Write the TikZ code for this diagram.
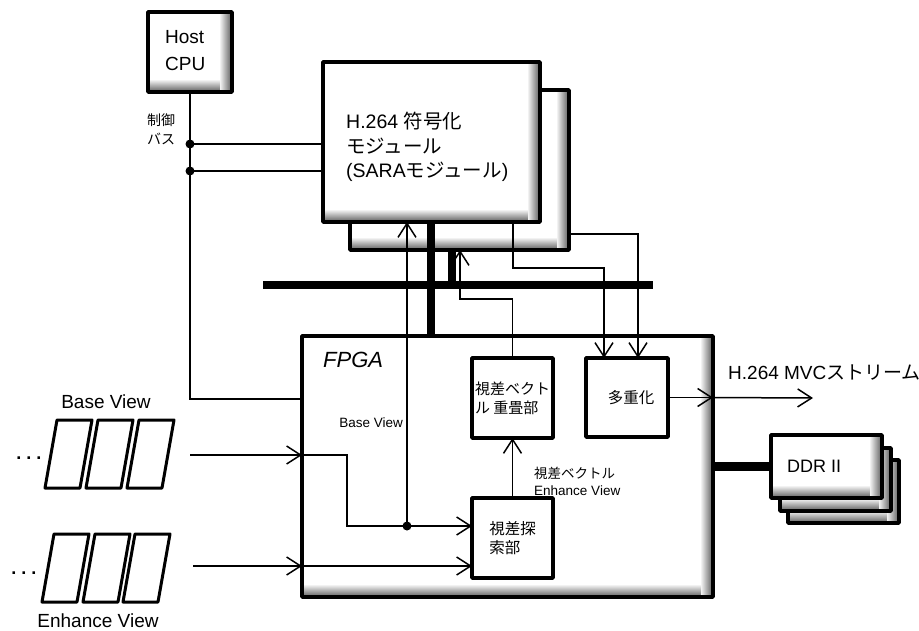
\documentclass[tikz,border=0pt]{standalone}
\usepackage{fontspec}
\setmainfont{Liberation Sans}
\newfontfamily\jp{Noto Sans CJK JP}
\usetikzlibrary{arrows.meta,calc}
\begin{document}
\begin{tikzpicture}[x=1pt,y=-1pt,
  wire/.style={line width=1.5pt},
  arr/.style={wire,-{Straight Barb[length=14pt,width=18pt,line width=1.5pt]}},
  bus/.style={line width=7.5pt},
  blk/.style={draw, line width=3.5pt, fill=white, inner sep=0pt, outer sep=0pt, line join=round},
  shadowed/.style={path picture={
    \foreach \i [evaluate=\i as \c using int(\i*5), evaluate=\i as \sa using \i-13, evaluate=\i as \sb using \i-12] in {0,...,12} {
      \fill[black!\c] ([xshift=\sa pt]path picture bounding box.north east) rectangle ([xshift=\sb pt]path picture bounding box.south east);
      \fill[black!\c] ([yshift=-\sa pt]path picture bounding box.south west) rectangle ([yshift=-\sb pt, xshift=-12pt]path picture bounding box.south east);
    }
  }},
  txt/.style={inner sep=0pt, align=left},
  pframe/.style={line width=3pt, line join=round, fill=white},
]
\useasboundingbox (0,0) rectangle (919,630);

% ---------- boxes ----------
\node[blk, shadowed, minimum width=84pt, minimum height=80pt, anchor=north west] (host) at (148,12) {};
\node[txt, anchor=west, font=\fontsize{19pt}{27pt}\selectfont] (hosttxt) at (165,51) {Host\\CPU};

\node[blk, shadowed, minimum width=219pt, minimum height=160pt, anchor=north west] (h264b) at (350,90) {};
\node[blk, shadowed, minimum width=217pt, minimum height=160pt, anchor=north west] (h264f) at (323,62) {};
\node[txt, anchor=north west, font=\fontsize{19.5pt}{24.5pt}\selectfont] (h264txt) at (346,112)
  {H.264 {\jp 符号化}\\{\jp モジュール}\\(SARA{\jp モジュール})};

\node[blk, shadowed, minimum width=411pt, minimum height=261pt, anchor=north west] (fpga) at (302,336) {};
\node[inner sep=0pt, anchor=base west, font=\fontsize{22pt}{22pt}\selectfont\itshape] (fpgatxt) at (323,367) {FPGA};

\node[blk, minimum width=81pt, minimum height=80pt, anchor=north west, align=left,
  font=\fontsize{15pt}{19pt}\selectfont\jp] (overlay) at (472,358) {視差ベクト\\ル 重畳部};
\node[blk, minimum width=82pt, minimum height=79pt, anchor=north west,
  font=\fontsize{15.5pt}{19pt}\selectfont\jp] (mux) at (586,358) {\hspace{8pt}多重化};
\node[blk, minimum width=81pt, minimum height=80pt, anchor=north west, align=left,
  font=\fontsize{15.5pt}{19pt}\selectfont\jp] (search) at (472,498) {視差探\\索部};

\node[blk, shadowed, minimum width=111pt, minimum height=63pt, anchor=north west] (ddr3) at (788,460) {};
\node[blk, shadowed, minimum width=111pt, minimum height=63pt, anchor=north west] (ddr2) at (780,448) {};
\node[blk, shadowed, minimum width=111pt, minimum height=63pt, anchor=north west] (ddr1) at (771,435) {};
\node[txt, anchor=west, font=\fontsize{18pt}{18pt}\selectfont] (ddrtxt) at (787,466) {DDR II};

% ---------- labels ----------
\node[txt, anchor=west, font=\fontsize{14pt}{19pt}\selectfont\jp] (ctl) at (147,129) {制御\\バス};
\node[inner sep=0pt, anchor=base east, font=\fontsize{13.5pt}{14pt}\selectfont] (bvsmall) at (403,427) {Base View};
\node[txt, anchor=west, font=\fontsize{13.5pt}{17pt}\selectfont] (dvlbl) at (534,481) {{\jp 視差ベクトル}\\Enhance View};
\node[inner sep=0pt, anchor=base west, font=\fontsize{19pt}{19pt}\selectfont] (outlbl) at (728,379) {H.264 MVC{\jp ストリーム}};
\node[inner sep=0pt, font=\fontsize{19pt}{19pt}\selectfont] (bvlbl) at (106,402) {Base View};
\node[inner sep=0pt, font=\fontsize{19pt}{19pt}\selectfont] (evlbl) at (98,621) {Enhance View};
\node[inner sep=0pt, anchor=base, font=\fontsize{18pt}{18pt}\selectfont\bfseries] (dots1) at (29,459) {.\hspace{5pt}.\hspace{5pt}.};
\node[inner sep=0pt, anchor=base, font=\fontsize{18pt}{18pt}\selectfont\bfseries] (dots2) at (24,574) {.\hspace{5pt}.\hspace{5pt}.};

% ---------- frames ----------
\foreach \bx in {45,86,127}
  \draw[pframe] (\bx,488) -- (\bx+35,488) -- (\bx+47,420) -- (\bx+12,420) -- cycle;
\foreach \bx in {42,83,123}
  \draw[pframe] (\bx,602) -- (\bx+35,602) -- (\bx+47,534) -- (\bx+12,534) -- cycle;

% ---------- coordinates ----------
\coordinate (cb) at (190,399);
\coordinate (d1) at (190,144);
\coordinate (d2) at (190,171);
\coordinate (t1) at (431,0);
\coordinate (t2) at (452,0);
\coordinate (busL) at (263,285);
\coordinate (busR) at (653,285);
\coordinate (bvdot) at (407,526);
\coordinate (ov1) at (460,299);
\coordinate (m1) at (513,268);
\coordinate (mx1) at (604,0);
\coordinate (m2) at (638,234);
\coordinate (bvin) at (190,455);
\coordinate (bvturn) at (347,455);
\coordinate (evin) at (193,566);
\coordinate (outend) at (813,398);

% ---------- control bus ----------
\draw[wire] (host.south) -- (cb) -- (fpga.west |- cb);
\draw[wire] (d1) -- (h264f.west |- d1);
\draw[wire] (d2) -- (h264f.west |- d2);
\fill (d1) circle (4.5pt);
\fill (d2) circle (4.5pt);

% ---------- thick buses ----------
\draw[bus] (busL) -- (busR);
\draw[bus] (h264f.south -| t1) -- (fpga.north -| t1);
\draw[bus] (h264b.south -| t2) -- (busL -| t2);
\draw[line width=8.5pt] (fpga.east |- ddr1.west) -- (ddr1.west);

% ---------- signal lines ----------
\draw[arr] (bvdot) -- (h264f.south -| bvdot);
\draw[arr] (overlay.north) |- (ov1) -- (h264b.south -| ov1);
\draw[arr] (h264f.south -| m1) -- (m1) -| (mux.north -| mx1);
\draw[arr] (h264b.east |- m2) -| (mux.north -| m2);

\draw[arr] (bvin) -- (fpga.west |- bvin);
\draw[arr] (fpga.west |- bvin) -- (bvturn) |- (search.west |- bvdot);
\fill (bvdot) circle (4.5pt);
\draw[arr] (evin) -- (fpga.west |- evin);
\draw[arr] (fpga.west |- evin) -- (search.west |- evin);
\draw[arr] (search.north) -- (overlay.south);
\draw[arr] (mux.east) -- (fpga.east |- mux.east);
\draw[arr] (fpga.east |- mux.east) -- (outend);
\end{tikzpicture}
\end{document}
